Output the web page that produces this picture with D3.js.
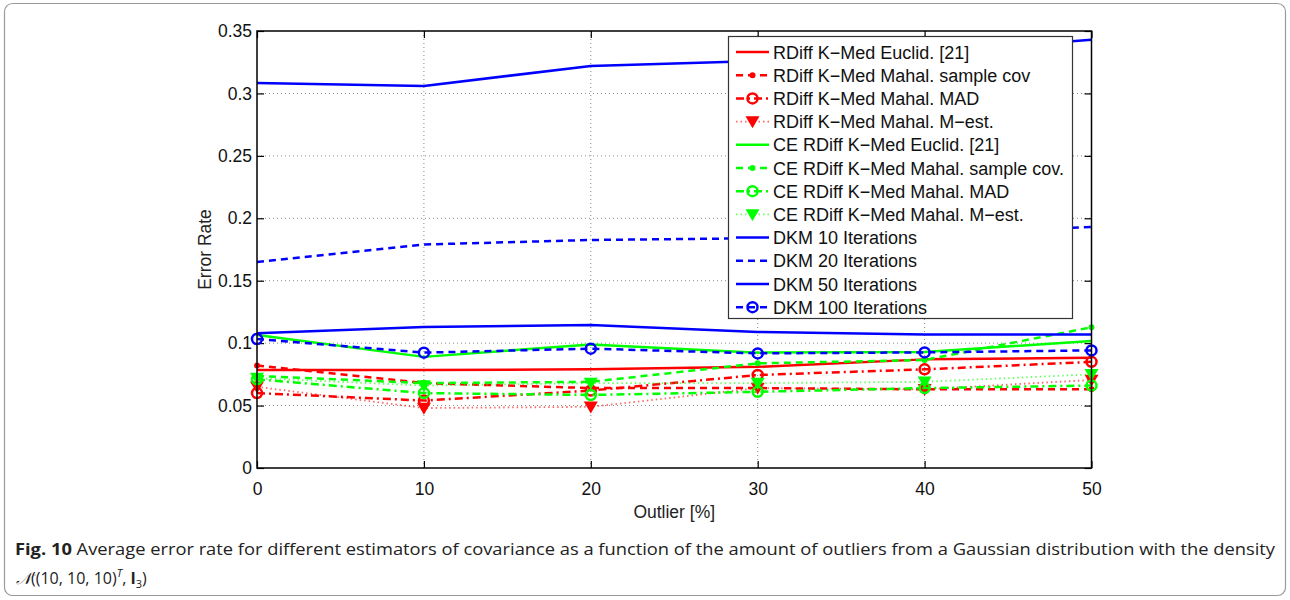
<!DOCTYPE html>
<html><head><meta charset="utf-8">
<script src="https://cdn.jsdelivr.net/npm/d3@7"></script>
<style>body{margin:0;background:#fff;} svg{display:block;}</style>
</head><body>
<svg id="c" width="1290" height="600"></svg>
<script>
const xValues = [0, 10, 20, 30, 40, 50];
const xTicks = [0, 10, 20, 30, 40, 50];
const yTicks = [0, 0.05, 0.1, 0.15, 0.2, 0.25, 0.3, 0.35];
const yTickLabels = ["0", "0.05", "0.1", "0.15", "0.2", "0.25", "0.3", "0.35"];

const rdEuclid = [0.0785, 0.0785, 0.079, 0.081, 0.087, 0.0884];
const rdSample = [0.082, 0.068, 0.064, 0.064, 0.063, 0.063];
const rdMAD    = [0.060, 0.054, 0.062, 0.0745, 0.079, 0.085];
const rdMest   = [0.065, 0.048, 0.049, 0.064, 0.063, 0.0705];
const ceEuclid = [0.1065, 0.089, 0.099, 0.0924, 0.093, 0.1017];
const ceSample = [0.0737, 0.068, 0.069, 0.0838, 0.0865, 0.1127];
const ceMAD    = [0.071, 0.060, 0.0585, 0.061, 0.064, 0.066];
const ceMest   = [0.072, 0.066, 0.068, 0.068, 0.069, 0.075];
const dkm10    = [0.3083, 0.306, 0.322, 0.326, 0.333, 0.343];
const dkm20    = [0.165, 0.179, 0.1826, 0.184, 0.188, 0.193];
const dkm50    = [0.108, 0.113, 0.1145, 0.109, 0.107, 0.107];
const dkm100   = [0.1033, 0.0924, 0.0956, 0.0918, 0.0926, 0.0942];

const seriesNames = [
  "RDiff K\u2212Med Euclid. [21]",
  "RDiff K\u2212Med Mahal. sample cov",
  "RDiff K\u2212Med Mahal. MAD",
  "RDiff K\u2212Med Mahal. M\u2212est.",
  "CE RDiff K\u2212Med Euclid. [21]",
  "CE RDiff K\u2212Med Mahal. sample cov.",
  "CE RDiff K\u2212Med Mahal. MAD",
  "CE RDiff K\u2212Med Mahal. M\u2212est.",
  "DKM 10 Iterations",
  "DKM 20 Iterations",
  "DKM 50 Iterations",
  "DKM 100 Iterations"
];
const seriesValues = [rdEuclid, rdSample, rdMAD, rdMest, ceEuclid, ceSample, ceMAD, ceMest, dkm10, dkm20, dkm50, dkm100];

const RED = "#ff0000", GREEN = "#00ff00", BLUE = "#0000ff";
const styles = [
  {c: RED,   dash: null,        m: null,   w: 2.5},
  {c: RED,   dash: "7,5",       m: "dot",  w: 2.5},
  {c: RED,   dash: "8,4,2,4",   m: "circ", w: 2.5},
  {c: RED,   dash: "1.5,3",     m: "tri",  w: 1.8, o: 0.6},
  {c: GREEN, dash: null,        m: null,   w: 2.5},
  {c: GREEN, dash: "7,5",       m: "dot",  w: 2.5},
  {c: GREEN, dash: "8,4,2,4",   m: "circ", w: 2.5},
  {c: GREEN, dash: "1.5,3",     m: "tri",  w: 1.8, o: 0.6},
  {c: BLUE,  dash: null,        m: null,   w: 2.5},
  {c: BLUE,  dash: "7,5",       m: null,   w: 2.5},
  {c: BLUE,  dash: null,        m: null,   w: 2.5},
  {c: BLUE,  dash: "7,5",       m: "bcirc",w: 2.5}
];

const svg = d3.select("#c");
const FONT = "Liberation Sans, Arimo, Arial, Helvetica, sans-serif";

svg.append("rect").attr("x", 4.5).attr("y", 3.5).attr("width", 1281).attr("height", 592)
  .attr("rx", 8).attr("fill", "none").attr("stroke", "#9a9a9a").attr("stroke-width", 1.2);

const L = 257, R = 1091.5, T = 31, B = 468;
const x = d3.scaleLinear().domain([0, 50]).range([L, R]);
const y = d3.scaleLinear().domain([0, 0.35]).range([B, T]);

const g = svg.append("g");

g.selectAll(".gx").data(xTicks.slice(1, -1)).enter().append("line")
  .attr("x1", d => x(d)).attr("x2", d => x(d)).attr("y1", T).attr("y2", B)
  .attr("stroke", "#888").attr("stroke-width", 1).attr("stroke-dasharray", "1,3");
g.selectAll(".gy").data(yTicks.slice(1, -1)).enter().append("line")
  .attr("y1", d => y(d)).attr("y2", d => y(d)).attr("x1", L).attr("x2", R)
  .attr("stroke", "#888").attr("stroke-width", 1).attr("stroke-dasharray", "1,3");

const xAxis = d3.axisBottom(x).tickValues(xTicks).tickSize(-7).tickPadding(15).tickFormat(d3.format("d"));
const xAxisTop = d3.axisTop(x).tickValues(xTicks).tickSize(-7).tickFormat("");
const yAxis = d3.axisLeft(y).tickValues(yTicks).tickSize(-7).tickPadding(5).tickFormat((d, i) => yTickLabels[i]);
const yAxisRight = d3.axisRight(y).tickValues(yTicks).tickSize(-7).tickFormat("");

function styleAxis(sel) {
  sel.select(".domain").remove();
  sel.selectAll("line").attr("stroke", "#000").attr("stroke-width", 1.2);
  sel.selectAll("text").attr("font-family", FONT).attr("font-size", 17.5).attr("fill", "#111");
}
g.append("g").attr("transform", `translate(0,${B})`).call(xAxis).call(styleAxis);
g.append("g").attr("transform", `translate(0,${T})`).call(xAxisTop).call(styleAxis);
g.append("g").attr("transform", `translate(${L},0)`).call(yAxis).call(styleAxis);
g.append("g").attr("transform", `translate(${R},0)`).call(yAxisRight).call(styleAxis);

const line = d3.line().x((d, i) => x(xValues[i])).y(d => y(d));
const plot = g.append("g");

function drawMarker(sel, m, c, px, py) {
  if (m === "dot") {
    sel.append("circle").attr("cx", px).attr("cy", py).attr("r", 3).attr("fill", c);
  } else if (m === "circ") {
    sel.append("circle").attr("cx", px).attr("cy", py).attr("r", 5).attr("fill", "none").attr("stroke", c).attr("stroke-width", 2.5);
  } else if (m === "bcirc") {
    sel.append("circle").attr("cx", px).attr("cy", py).attr("r", 5).attr("fill", "none").attr("stroke", c).attr("stroke-width", 2.5);
  } else if (m === "tri") {
    const s = 7;
    sel.append("path").attr("d", `M${px - s},${py - s * 0.75}L${px + s},${py - s * 0.75}L${px},${py + s * 0.95}Z`).attr("fill", c);
  }
}

seriesValues.forEach((vals, k) => {
  const st = styles[k];
  const p = plot.append("path").attr("d", line(vals)).attr("fill", "none")
    .attr("stroke", st.c).attr("stroke-width", st.w).attr("stroke-linejoin", "round");
  if (st.dash) p.attr("stroke-dasharray", st.dash);
  if (st.o) p.attr("stroke-opacity", st.o);
  if (st.m) {
    const mg = plot.append("g");
    vals.forEach((v, i) => drawMarker(mg, st.m, st.c, x(xValues[i]), y(v)));
  }
});

g.append("rect").attr("x", L).attr("y", T).attr("width", R - L).attr("height", B - T)
  .attr("fill", "none").attr("stroke", "#000").attr("stroke-width", 1.5);

svg.append("text").attr("x", (L + R) / 2).attr("y", 518).attr("text-anchor", "middle")
  .attr("font-family", FONT).attr("font-size", 17.5).attr("fill", "#222").text("Outlier [%]");
svg.append("text").attr("transform", `translate(211,${(T + B) / 2}) rotate(-90)`).attr("text-anchor", "middle")
  .attr("font-family", FONT).attr("font-size", 17.5).attr("fill", "#222").text("Error Rate");

const lgX = 728.5, lgY = 36.5, lgW = 344, lgH = 282, rowH = 23.2, row0 = 52;
const lg = svg.append("g");
lg.append("rect").attr("x", lgX).attr("y", lgY).attr("width", lgW).attr("height", lgH)
  .attr("fill", "#fff").attr("stroke", "#333").attr("stroke-width", 1.2);
seriesNames.forEach((name, k) => {
  const st = styles[k];
  const cy = row0 + k * rowH;
  const ln = lg.append("line").attr("x1", 736).attr("x2", 769).attr("y1", cy).attr("y2", cy)
    .attr("stroke", st.c).attr("stroke-width", st.w);
  if (st.dash) ln.attr("stroke-dasharray", st.dash);
  if (st.o) ln.attr("stroke-opacity", st.o);
  if (st.m) drawMarker(lg, st.m, st.c, 752.5, cy);
  lg.append("text").attr("x", 773).attr("y", cy + 6.5).attr("font-family", FONT).attr("font-size", 18)
    .attr("fill", "#111").text(name);
});

const CAP = "'Open Sans', 'Noto Sans', sans-serif";
const cap = svg.append("text").attr("x", 15).attr("y", 555).attr("font-family", CAP).attr("font-size", 16)
  .attr("fill", "#222").attr("textLength", 1260).attr("lengthAdjust", "spacingAndGlyphs");
cap.append("tspan").attr("font-weight", "bold").text("Fig. 10");
cap.append("tspan").text(" Average error rate for different estimators of covariance as a function of the amount of outliers from a Gaussian distribution with the density");

const cap2 = svg.append("text").attr("x", 16).attr("y", 584).attr("font-family", CAP).attr("font-size", 16)
  .attr("fill", "#222");
cap2.append("tspan").attr("font-family", "'DejaVu Serif', serif").attr("font-style", "italic").text("\uD835\uDCA9");
cap2.append("tspan").text("((10, 10, 10)");
cap2.append("tspan").attr("dy", -7).attr("font-size", 11).attr("font-style", "italic").text("T");
cap2.append("tspan").attr("dy", 7).text(", ");
cap2.append("tspan").attr("font-weight", "bold").text("I");
cap2.append("tspan").attr("dy", 4).attr("font-size", 11).text("3");
cap2.append("tspan").attr("dy", -4).text(")");
</script>
</body></html>
